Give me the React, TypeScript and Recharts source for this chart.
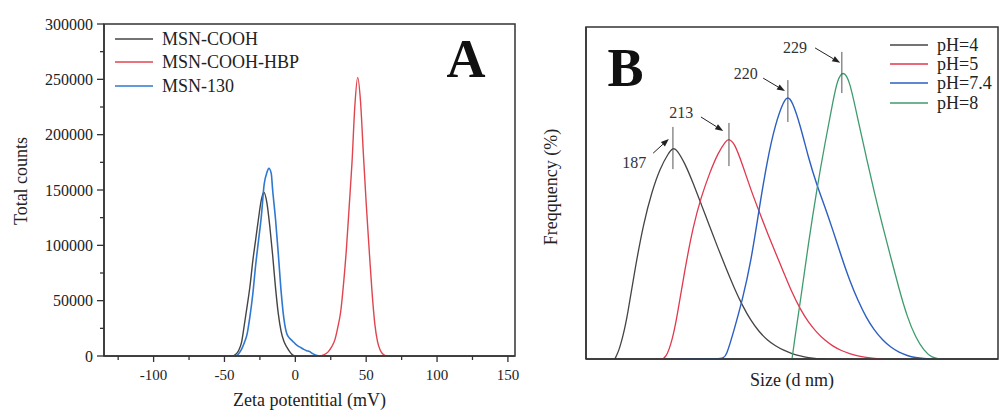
import React from 'react';
import {
  Label,
  Legend,
  Line,
  LineChart,
  ReferenceArea,
  ReferenceDot,
  ReferenceLine,
  XAxis,
  YAxis,
} from 'recharts';

const FONT = "'Liberation Serif', 'Times New Roman', serif";
const AXIS = '#333';
const INK = '#222';

// ---- panel A: zeta potential ----
const zetaNames = ['MSN-COOH', 'MSN-COOH-HBP', 'MSN-130'];
const zetaTicks = [-125, -100, -75, -50, -25, 0, 25, 50, 75, 100, 125, 150];
const countTicks = [0, 25000, 50000, 75000, 100000, 125000, 150000, 175000, 200000, 225000, 250000, 275000, 300000];

const coohX = [-135, -44, -42, -40, -38, -36, -34, -32, -30, -28, -26, -24, -22.2, -20, -18, -16, -14, -12, -10, -8, -6, -4, -2, 0, 155];
const coohY = [0, 0, 1500, 5000, 12000, 28000, 45000, 63000, 86000, 105000, 124000, 141000, 148000, 138000, 117000, 91000, 62000, 38000, 22000, 13000, 8000, 4000, 1000, 0, 0];

const hbpX = [-135, 17, 20, 23, 25.7, 28, 30, 32, 34, 36, 38, 40, 42, 44, 46, 48, 50, 52, 54, 56, 58, 60, 62, 64, 155];
const hbpY = [0, 0, 1000, 3500, 8400, 15000, 26000, 40000, 65000, 96000, 135000, 175000, 226000, 251800, 230000, 183000, 138000, 98000, 60000, 30000, 13000, 5000, 1500, 0, 0];

const msn130X = [-135, -42, -40, -38, -36, -34, -32, -30, -28, -26, -24, -22, -20, -18.7, -17, -16, -14, -12, -10, -8, -6, -4, -2, 0, 2, 4, 6, 8, 10, 12, 14, 16, 17.5, 155];
const msn130Y = [0, 0, 2000, 6000, 12000, 20000, 36000, 56000, 82000, 104000, 126000, 155000, 166000, 169600, 165000, 150000, 124000, 92000, 58000, 33000, 20000, 16000, 13500, 11000, 9000, 7500, 6000, 4800, 4000, 2300, 900, 300, 0, 0];

// ---- panel B: size distribution ----
const phNames = ['pH=4', 'pH=5', 'pH=7.4', 'pH=8'];

const ph4X = [7, 8, 9, 10, 12, 14, 16, 18, 20, 21.1, 22, 24, 26, 28, 30, 32, 34, 36, 38, 40, 42, 44, 46, 48, 50, 52, 54, 56, 58];
const ph4Y = [0, 2.5, 7, 12.5, 28, 41, 50.5, 57.5, 62, 63.6, 63.2, 59, 53, 46.5, 40, 33.5, 27.3, 21.3, 16, 11.6, 8.2, 5.7, 3.9, 2.6, 1.6, 0.9, 0.4, 0.1, 0];

const ph5X = [18, 19.4, 21, 22, 24, 26, 28, 30, 32, 34, 34.7, 36, 38, 40, 42, 44, 46, 48, 50, 52, 54, 56, 58, 60, 62, 64, 66, 68, 70, 72];
const ph5Y = [0, 0, 6, 12, 27, 40, 49, 56, 62, 65.8, 66.3, 65.2, 58.5, 51, 44.5, 38, 32, 26, 20, 15, 11, 8, 5.6, 3.8, 2.5, 1.6, 0.9, 0.5, 0.2, 0];

const ph74X = [22, 33, 34, 36, 38, 40, 42, 44, 46, 48, 49, 50, 52, 54, 56, 58, 60, 62, 64, 66, 68, 70, 72, 74, 76, 78, 80, 82, 84];
const ph74Y = [0, 0, 0.5, 9, 18, 29, 45, 60, 71, 77.8, 79, 77.8, 70.5, 60.5, 52.5, 45.8, 38.5, 30.8, 23.6, 17.6, 12.5, 8.6, 5.7, 3.5, 2, 1, 0.4, 0.1, 0];

const ph8X = [50, 51, 52, 54, 56, 58, 60, 61, 62.4, 64, 66, 68, 70, 72, 74, 76, 78, 80, 82, 84, 86];
const ph8Y = [0, 9, 17, 35, 51, 65, 78, 84, 87, 84, 72, 61, 50, 40, 30.5, 21, 12.5, 6.5, 2.5, 0.3, 0];

// peak annotations (data units of panel B)
const peakNames = ['187', '213', '220', '229'];
const peakX = [21.1, 34.7, 49.0, 62.1];
const peakMarkLow = [57.2, 58.1, 71.4, 80.1];
const peakMarkHigh = [69.9, 71.1, 84.0, 92.5];
const peakLabelX = [11.7, 23.1, 38.8, 50.7];
const peakLabelY = [59.3, 74.4, 86.1, 94.0];
const arrowFrom = [[16.3, 62.0], [27.9, 72.9], [43.0, 84.6], [55.6, 93.7]];
const arrowTo = [[20.1, 66.3], [33.3, 68.7], [48.3, 80.7], [61.7, 89.2]];

const zip = (xs: number[], ys: number[]) => xs.map((x, i) => ({ x, y: ys[i] }));

const ZetaTick = ({ x, y, payload }: any) => {
  const major = payload.value % 50 === 0;
  return (
    <g>
      <line x1={x} x2={x} y1={y} y2={y + (major ? 6 : 4)} stroke={AXIS} strokeWidth={1.3} />
      {major && (
        <text x={x} y={y + 24} textAnchor="middle" fontSize={15} fontFamily={FONT} fill={INK}>
          {payload.value}
        </text>
      )}
    </g>
  );
};

const CountTick = ({ x, y, payload }: any) => {
  const major = payload.value % 50000 === 0;
  return (
    <g>
      <line x1={x - (major ? 7 : 4)} x2={x} y1={y} y2={y} stroke={AXIS} strokeWidth={1.3} />
      {major && (
        <text x={x - 11} y={y} dy="0.35em" textAnchor="end" fontSize={16} fontFamily={FONT} fill={INK}>
          {payload.value}
        </text>
      )}
    </g>
  );
};

const Arrow = (props: any) => {
  const { x1, y1, x2, y2 } = props;
  const a = Math.atan2(y2 - y1, x2 - x1);
  const bx = x2 - 8 * Math.cos(a);
  const by = y2 - 8 * Math.sin(a);
  const s = Math.sin(a);
  const c = Math.cos(a);
  const pts = `${x2},${y2} ${bx - 3 * s},${by + 3 * c} ${bx + 3 * s},${by - 3 * c}`;
  return (
    <g>
      <line x1={x1} y1={y1} x2={bx} y2={by} stroke={INK} strokeWidth={1} />
      <polygon points={pts} fill={INK} />
    </g>
  );
};

// legend rows, kept in the series' own order
const legendRows = (order: string[], rowH: number) => ({ payload }: any) => {
  const items = [...(payload || [])].sort((a: any, b: any) => order.indexOf(a.value) - order.indexOf(b.value));
  return (
    <div style={{ fontFamily: FONT, fontSize: 18, color: INK }}>
      {items.map((p: any) => (
        <div key={p.value} style={{ display: 'flex', alignItems: 'center', height: rowH, lineHeight: 1 }}>
          <svg width={38} height={4} style={{ display: 'block' }}>
            <line x1={0} x2={38} y1={2} y2={2} stroke={p.color} strokeWidth={1.5} />
          </svg>
          <span style={{ marginLeft: 9, whiteSpace: 'nowrap' }}>{p.value}</span>
        </div>
      ))}
    </div>
  );
};

function ZetaPanel() {
  return (
    <LineChart width={520} height={412} margin={{ top: 24, right: 5, bottom: 26, left: 0 }}>
      <ReferenceArea x1={-135} x2={155} y1={0} y2={300000} fill="none" fillOpacity={0} stroke={AXIS} strokeWidth={1.5} />
      <XAxis
        dataKey="x"
        type="number"
        domain={[-135, 155]}
        ticks={zetaTicks}
        interval={0}
        height={30}
        tickSize={0}
        tickMargin={0}
        tickLine={false}
        tick={<ZetaTick />}
        axisLine={{ stroke: AXIS, strokeWidth: 1.5 }}
        allowDataOverflow
      >
        <Label
          content={() => (
            <text x={309.5} y={406} textAnchor="middle" fontSize={18} fontFamily={FONT} fill={INK}>
              Zeta potentitial (mV)
            </text>
          )}
        />
      </XAxis>
      <YAxis
        type="number"
        domain={[0, 300000]}
        ticks={countTicks}
        interval={0}
        width={104}
        tickSize={0}
        tickMargin={0}
        tickLine={false}
        tick={<CountTick />}
        axisLine={{ stroke: AXIS, strokeWidth: 1.5 }}
        allowDataOverflow
      >
        <Label
          content={() => (
            <text x={27} y={181} transform="rotate(-90 27 181)" textAnchor="middle" fontSize={18} fontFamily={FONT} fill={INK}>
              Total counts
            </text>
          )}
        />
      </YAxis>
      <Legend
        layout="vertical"
        align="center"
        verticalAlign="middle"
        wrapperStyle={{ left: 115, top: 27, width: 220 }}
        content={legendRows(zetaNames, 23.5)}
      />
      <Line data={zip(coohX, coohY)} dataKey="y" name={zetaNames[0]} type="monotone" stroke="#444" strokeWidth={1.4} dot={false} isAnimationActive={false} />
      <Line data={zip(hbpX, hbpY)} dataKey="y" name={zetaNames[1]} type="monotone" stroke="#e0454f" strokeWidth={1.4} dot={false} isAnimationActive={false} />
      <Line data={zip(msn130X, msn130Y)} dataKey="y" name={zetaNames[2]} type="monotone" stroke="#2f78d0" strokeWidth={1.6} dot={false} isAnimationActive={false} />
    </LineChart>
  );
}

function SizePanel() {
  return (
    <LineChart width={479} height={412} margin={{ top: 27, right: 1, bottom: 23, left: 0 }}>
      <ReferenceArea x1={0} x2={100} y1={0} y2={100} fill="none" fillOpacity={0} stroke={AXIS} strokeWidth={1.5} />
      <XAxis
        dataKey="x"
        type="number"
        domain={[0, 100]}
        height={30}
        tick={false}
        tickLine={false}
        axisLine={{ stroke: AXIS, strokeWidth: 1.5 }}
        allowDataOverflow
      >
        <Label
          content={() => (
            <text x={272} y={386} textAnchor="middle" fontSize={18} fontFamily={FONT} fill={INK}>
              Size (d nm)
            </text>
          )}
        />
      </XAxis>
      <YAxis
        type="number"
        domain={[0, 100]}
        width={66}
        tick={false}
        tickLine={false}
        axisLine={{ stroke: AXIS, strokeWidth: 1.5 }}
        allowDataOverflow
      >
        <Label
          content={() => (
            <text x={37} y={187} transform="rotate(-90 37 187)" textAnchor="middle" fontSize={18} fontFamily={FONT} fill={INK}>
              Freqquency (%)
            </text>
          )}
        />
      </YAxis>
      <Legend
        layout="vertical"
        align="center"
        verticalAlign="middle"
        wrapperStyle={{ left: 370, top: 35, width: 110 }}
        content={legendRows(phNames, 19.4)}
      />
      <Line data={zip(ph4X, ph4Y)} dataKey="y" name={phNames[0]} type="basis" stroke="#444" strokeWidth={1.3} dot={false} isAnimationActive={false} />
      <Line data={zip(ph5X, ph5Y)} dataKey="y" name={phNames[1]} type="basis" stroke="#e0384e" strokeWidth={1.3} dot={false} isAnimationActive={false} />
      <Line data={zip(ph74X, ph74Y)} dataKey="y" name={phNames[2]} type="basis" stroke="#2c5fc0" strokeWidth={1.4} dot={false} isAnimationActive={false} />
      <Line data={zip(ph8X, ph8Y)} dataKey="y" name={phNames[3]} type="basis" stroke="#3f9b6e" strokeWidth={1.3} dot={false} isAnimationActive={false} />
      {peakNames.map((name, i) => (
        <ReferenceLine
          key={`m${name}`}
          segment={[{ x: peakX[i], y: peakMarkLow[i] }, { x: peakX[i], y: peakMarkHigh[i] }]}
          stroke="#555"
          strokeWidth={1}
        />
      ))}
      {peakNames.map((name, i) => (
        <ReferenceLine
          key={`a${name}`}
          segment={[{ x: arrowFrom[i][0], y: arrowFrom[i][1] }, { x: arrowTo[i][0], y: arrowTo[i][1] }]}
          shape={<Arrow />}
        />
      ))}
      {peakNames.map((name, i) => (
        <ReferenceDot
          key={`l${name}`}
          x={peakLabelX[i]}
          y={peakLabelY[i]}
          r={0}
          stroke="none"
          fill="none"
          label={{ value: name, position: 'center', fontSize: 16, fontFamily: FONT, fill: '#333' }}
        />
      ))}
    </LineChart>
  );
}

export default function App() {
  return (
    <div style={{ position: 'absolute', left: 0, top: 0, width: 999, height: 412, background: '#fff', overflow: 'hidden' }}>
      <div style={{ position: 'absolute', left: 0, top: 0 }}>
        <ZetaPanel />
      </div>
      <div style={{ position: 'absolute', left: 520, top: 0 }}>
        <SizePanel />
      </div>
      <svg width={999} height={412} style={{ position: 'absolute', left: 0, top: 0, pointerEvents: 'none' }}>
        <text x={466} y={77} textAnchor="middle" fontSize={54} fontWeight="bold" fontFamily={FONT} fill="#111">A</text>
        <text x={625.5} y={86} textAnchor="middle" fontSize={54} fontWeight="bold" fontFamily={FONT} fill="#111">B</text>
      </svg>
    </div>
  );
}
